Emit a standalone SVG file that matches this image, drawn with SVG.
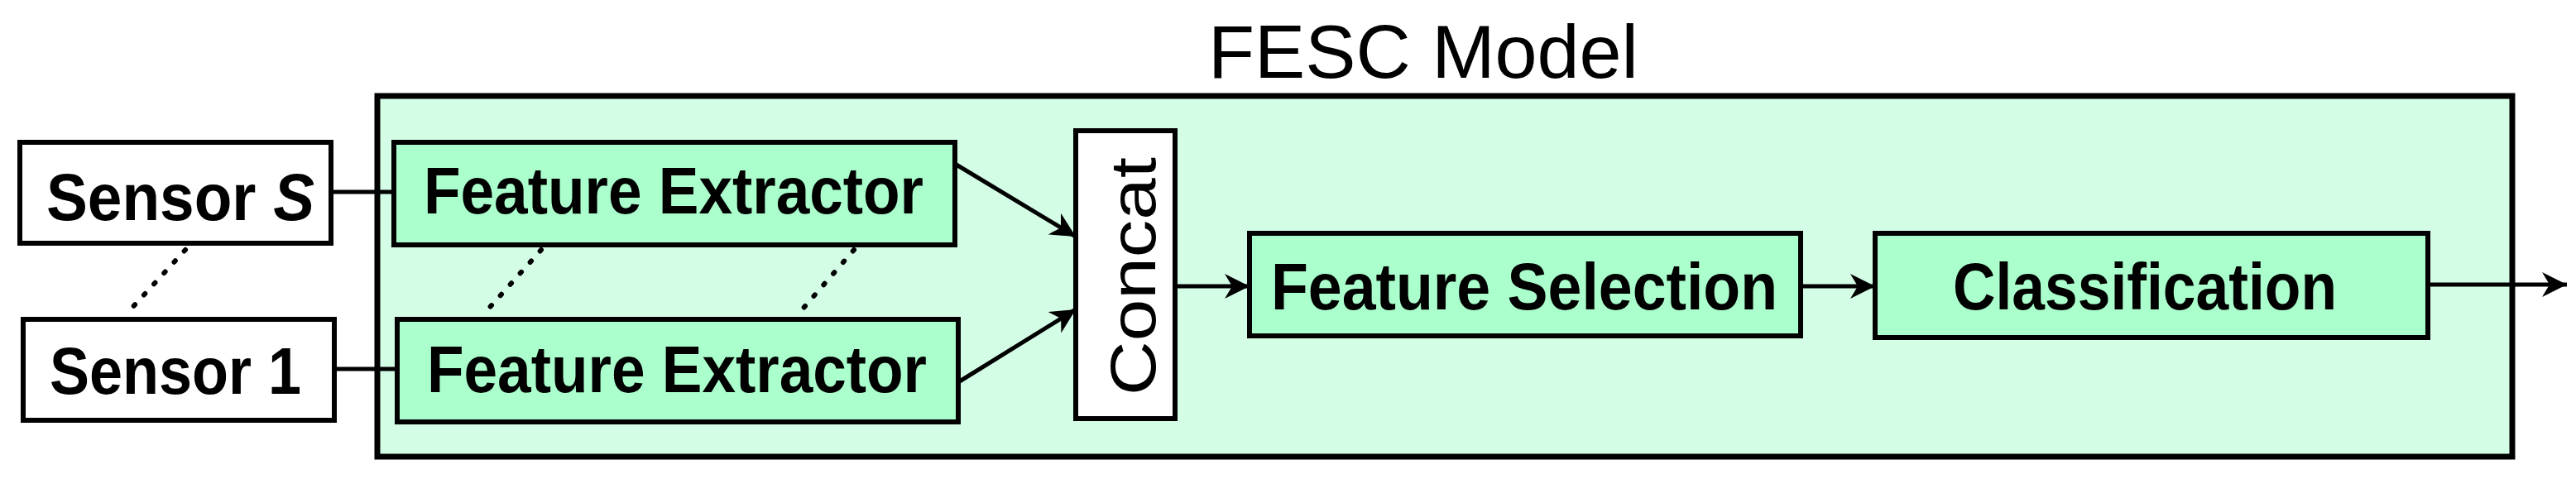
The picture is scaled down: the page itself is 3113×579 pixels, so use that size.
<svg xmlns="http://www.w3.org/2000/svg" width="3113" height="579" viewBox="0 0 3113 579">
<defs>
<style>
.b{stroke:#000;stroke-width:6}
.w{fill:#fff}
.g{fill:#aaffcc}
.t{font-family:"Liberation Sans",Arial,sans-serif;font-weight:bold;font-size:80px;fill:#000}
.c{stroke:#000;stroke-width:5;fill:none}
.d{stroke:#000;stroke-width:6;fill:none;stroke-dasharray:2 16;stroke-linecap:round}
</style>
<marker id="a" viewBox="0 0 10 10" refX="10" refY="5" markerWidth="6" markerHeight="6" orient="auto"><path d="M0,0 L10,5 L0,10 L3,5 z" fill="#000"/></marker>
</defs>
<rect width="3113" height="579" fill="#fff"/>
<g id="fesc">
<rect x="456" y="116" width="2580" height="436" fill="#d4fde6" stroke="#000" stroke-width="7"/>
<text x="1720" y="94" text-anchor="middle" font-family="Liberation Sans,Arial,sans-serif" font-size="90" textLength="520" lengthAdjust="spacingAndGlyphs">FESC Model</text>
</g>
<g id="sensorS"><rect class="b w" x="24" y="172" width="376" height="122"/>
<text class="t" x="56" y="266" textLength="324" lengthAdjust="spacingAndGlyphs">Sensor <tspan font-style="italic">S</tspan></text></g>
<g id="sensor1"><rect class="b w" x="28" y="386" width="376" height="122"/>
<text class="t" x="60" y="476" textLength="304" lengthAdjust="spacingAndGlyphs">Sensor 1</text></g>
<g id="fe2"><rect class="b g" x="476" y="172" width="678" height="124"/>
<text class="t" x="512" y="258" textLength="604" lengthAdjust="spacingAndGlyphs">Feature Extractor</text></g>
<g id="fe1"><rect class="b g" x="480" y="386" width="678" height="124"/>
<text class="t" x="516" y="474" textLength="604" lengthAdjust="spacingAndGlyphs">Feature Extractor</text></g>
<g id="concat"><rect class="b" fill="#fff" x="1300" y="158" width="120" height="348"/>
<text x="1396" y="334" transform="rotate(-90 1396 334)" text-anchor="middle" font-family="Liberation Sans,Arial,sans-serif" font-size="78" textLength="288" lengthAdjust="spacingAndGlyphs">Concat</text></g>
<g id="fs"><rect class="b g" x="1510" y="282" width="666" height="124"/>
<text class="t" x="1536" y="374" textLength="612" lengthAdjust="spacingAndGlyphs">Feature Selection</text></g>
<g id="cls"><rect class="b g" x="2266" y="282" width="668" height="126"/>
<text class="t" x="2360" y="374" textLength="464" lengthAdjust="spacingAndGlyphs">Classification</text></g>
<g id="connectors">
<line class="c" x1="400" y1="232" x2="476" y2="232"/>
<line class="c" x1="404" y1="446" x2="480" y2="446"/>
<line class="c" x1="1154" y1="198" x2="1300" y2="286" marker-end="url(#a)"/>
<line class="c" x1="1158" y1="462" x2="1300" y2="374" marker-end="url(#a)"/>
<line class="c" x1="1420" y1="346" x2="1510" y2="346" marker-end="url(#a)"/>
<line class="c" x1="2176" y1="346" x2="2266" y2="346" marker-end="url(#a)"/>
<line class="c" x1="2934" y1="344" x2="3102" y2="344" marker-end="url(#a)"/>
<line class="d" x1="224" y1="302" x2="156" y2="376"/>
<line class="d" x1="654" y1="302" x2="586" y2="378"/>
<line class="d" x1="1032" y1="302" x2="966" y2="378"/>
</g>
</svg>
